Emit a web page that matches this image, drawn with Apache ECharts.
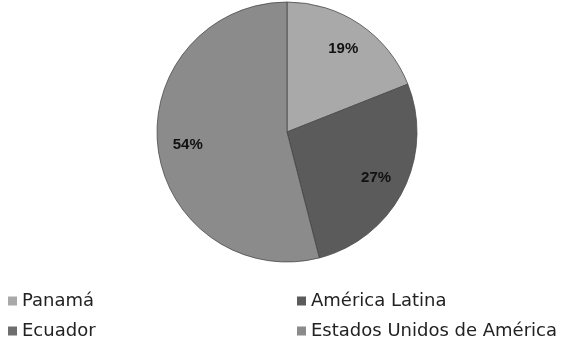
<!DOCTYPE html>
<html>
<head>
<meta charset="utf-8">
<script src="https://cdn.jsdelivr.net/npm/echarts@6/dist/echarts.min.js"></script>
<style>
  html, body { margin: 0; padding: 0; background: #fff; }
  #chart { width: 567px; height: 344px; }
</style>
</head>
<body>
<div id="chart"></div>
<script>
  // datos
  var categories = ["Panamá", "América Latina", "Ecuador", "Estados Unidos de América"];
  var values = [19, 27, 0, 54];
  var colors = ["#a9a9a9", "#5b5b5b", "#6e6e6e", "#8b8b8b"];

  var pieData = categories.map(function (name, i) {
    return { name: name, value: values[i], itemStyle: { color: colors[i] } };
  });

  // leyenda en dos columnas: [left, top] por elemento
  var legendPos = [[8, 292], [297, 292], [8, 322], [297, 322]];

  var chart = echarts.init(document.getElementById("chart"));

  chart.setOption({
    animation: false,
    legend: categories.map(function (name, i) {
      return {
        data: [name],
        left: legendPos[i][0],
        top: legendPos[i][1],
        padding: 0,
        itemWidth: 9,
        itemHeight: 9,
        itemGap: 0,
        icon: "rect",
        itemStyle: { borderWidth: 0 },
        textStyle: { fontFamily: "DejaVu Sans", fontSize: 18, color: "#222" },
      };
    }),
    series: [
      {
        type: "pie",
        center: [287, 132],
        radius: [0, 130],
        startAngle: 90,
        data: pieData,
        label: { show: false },
        labelLine: { show: false },
        itemStyle: { borderColor: "#4a4a4a", borderWidth: 0.8 },
        emphasis: { disabled: true },
      },
      {
        // solo para ubicar las etiquetas de porcentaje
        type: "pie",
        center: [287, 132],
        radius: [64, 130],
        startAngle: 90,
        silent: true,
        legendHoverLink: false,
        data: pieData.map(function (d) {
          return { name: d.name, value: d.value, itemStyle: { color: "transparent" } };
        }),
        label: {
          show: true,
          position: "inside",
          fontFamily: "Liberation Sans",
          fontWeight: "bold",
          fontSize: 15,
          color: "#111",
          formatter: function (p) {
            return p.value ? p.value + "%" : "";
          },
        },
        labelLine: { show: false },
        emphasis: { disabled: true },
      },
    ],
  });
</script>
</body>
</html>
